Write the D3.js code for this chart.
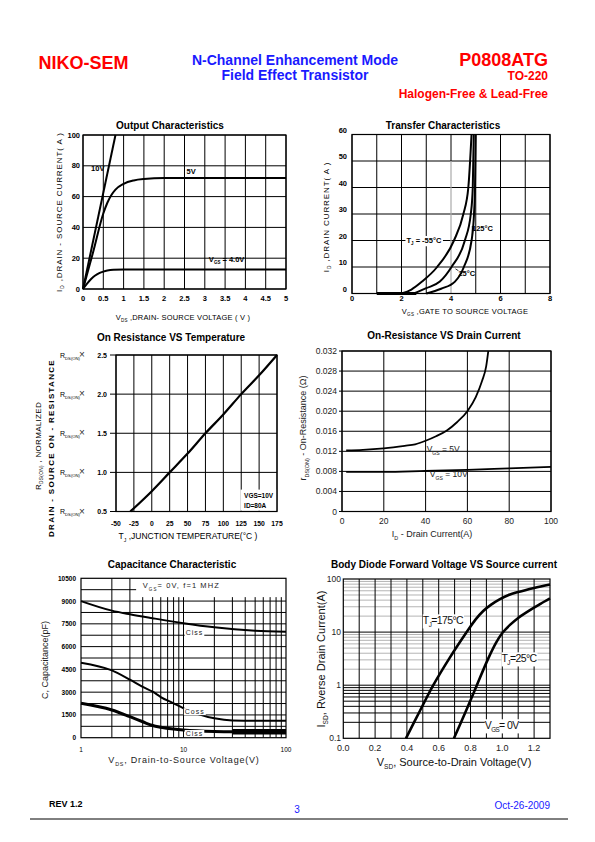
<!DOCTYPE html>
<html><head><meta charset="utf-8">
<script src="https://cdn.jsdelivr.net/npm/d3@7"></script>
<style>body{margin:0;background:#fff}svg{display:block}text{font-family:"Liberation Sans",Arial,Helvetica,sans-serif}</style>
</head><body><svg id="page" width="595" height="842"></svg>
<script>
// ================= DATA =================
// 1. Output characteristics (Vds [V], Id [A])
const outVdsTicks = [0,0.5,1,1.5,2,2.5,3,3.5,4,4.5,5];
const outIdTicks = [0,20,40,60,80,100];
const outVgs10 = [[0,0],[0.8,100]];
const outVgs5 = [[0,0],[0.25,24],[0.5,49],[0.6,56],[0.7,61],[0.8,64.5],[1.0,68.3],[1.25,70.5],[1.5,71.4],[2,72],[3,72],[5,72]];
const outVgs4 = [[0,0],[0.1,3.5],[0.2,6.5],[0.3,8.8],[0.4,10.3],[0.5,11.3],[0.6,12],[0.75,12.5],[1,12.7],[5,12.7]];

// 2. Transfer characteristics (Vgs [V], Id [A])
const trVgsTicks = [0,2,4,6,8];
const trVgsGrid = [0,1,2,3,4,5,6,7,8];
const trIdTicks = [0,10,20,30,40,50,60];
const trCurveA = [[2.0,0],[2.4,1.5],[2.83,4.5],[3.44,10],[4.12,20],[4.5,30],[4.7,40],[4.83,60]];
const trCurveB = [[2.5,0],[3.0,2],[3.55,4.5],[4.02,10],[4.56,20],[4.8,30],[4.88,40],[4.92,60]];
const trCurveC = [[3.0,0],[3.6,1.8],[4.16,4.5],[4.52,10],[4.83,20],[4.93,30],[4.97,40],[5.0,60]];
const trOffSegment = [[1,0],[2.6,0]];

// 3. On resistance vs temperature (Tj [°C], normalized Rds(on))
const tempTicks = [-50,-25,0,25,50,75,100,125,150,175];
const rnormTicks = [0.5,1.0,1.5,2.0,2.5];
const rnormCurve = [[-30,0.5],[0,0.76],[25,1.0],[50,1.24],[75,1.5],[100,1.74],[125,2.0],[150,2.24],[175,2.5]];

// 4. On resistance vs drain current (Id [A], Rds(on) [ohm])
const idTicks = [0,20,40,60,80,100];
const rdsTicks = [0,0.004,0.008,0.012,0.016,0.020,0.024,0.028,0.032];
const rdsTickLabels = ["0","0.004","0.008","0.012","0.016","0.020","0.024","0.028","0.032"];
const rdsVgs5 = [[2,0.0122],[10,0.0123],[20,0.0126],[30,0.0131],[35,0.0134],[40,0.0141],[45,0.015],[50,0.0161],[55,0.0178],[60,0.020],[64,0.0228],[67,0.026],[69,0.029],[70,0.032]];
const rdsVgs10 = [[2,0.0079],[20,0.0079],[40,0.0081],[60,0.0083],[80,0.0086],[100,0.0089]];

// 5. Capacitance (Vds [V], C [pF])
const capVdsTicks = [1,10,100];
const capVdsGrid = [2,3,4,5,6,7,8,9,10,20,30,40,50,60,70,80,90];
const capTicks = [0,1500,3000,4500,6000,7500,9000,10500];
const capGrid = [750,1500,2250,3000,3750,4500,5250,6000,6750,7500,8250,9000,9750];
const cissCurve = [[1,9000],[2,8370],[3,8130],[5,7870],[10,7540],[20,7270],[50,7050],[100,6980]];
const cossCurve = [[1,4940],[2,4430],[3,3820],[4,3350],[5,3030],[6,2680],[8,2266],[10,1937],[20,1278],[30,1130],[50,1110],[100,1120]];
const crssCurve = [[1,2266],[2,1825],[3,1383],[4,1050],[5,800],[6,690],[8,570],[10,507],[20,410],[30,392],[100,392]];
const crssThick = [[30,392],[100,392]];

// 6. Body diode (Vsd [V], Isd [A])
const vsdTicks = [0,0.2,0.4,0.6,0.8,1.0,1.2];
const vsdGrid = [0.1,0.2,0.3,0.4,0.5,0.6,0.7,0.8,0.9,1.0,1.1,1.2];
const isdTicks = [0.1,1,10,100];
const isdMinorLow = [0.2,0.3,0.4,0.5,0.6,0.7,0.8,0.9,1];
const isdMinorHigh = [2,3,4,5,6,7,8,9,20,30,40,50,60,70,80,90];
const diode175 = [[0.394,0.1],[0.48,0.32],[0.566,1],[0.67,3.3],[0.776,10],[0.83,17],[0.88,25],[0.93,33],[0.98,41],[1.04,50],[1.1,57],[1.2,68],[1.3,79]];
const diode25 = [[0.696,0.1],[0.77,0.32],[0.84,1],[0.912,3.2],[0.962,6.4],[1.0,9.6],[1.05,13.8],[1.1,18.5],[1.174,26],[1.24,34],[1.3,43]];

// ================= HELPERS =================
const svg = d3.select("#page");
const RED = "#ff0000", BLUE = "#1a1aff";

function rich(parent, x, y, parts, o) {
  const t = parent.append("text").attr("x", x).attr("y", y)
    .attr("font-size", o.size).attr("text-anchor", o.anchor || "start")
    .attr("font-weight", o.weight || "normal").attr("fill", o.fill || "#000");
  if (o.rotate) t.attr("transform", `rotate(-90,${x},${y})`);
  if (o.ls != null) t.attr("letter-spacing", o.ls);
  let shift = 0;
  parts.forEach(p => {
    const [s, kind] = Array.isArray(p) ? p : [p, null];
    const target = kind === "sub" ? o.size * 0.3 : 0;
    const ts = t.append("tspan").text(s);
    if (target - shift !== 0) ts.attr("dy", target - shift);
    if (kind === "sub") ts.attr("font-size", o.size * 0.6);
    shift = target;
  });
  return t;
}
function vgrid(g, x, y, vals, stroke, sw) {
  g.append("g").selectAll("line").data(vals).join("line")
    .attr("x1", d => x(d)).attr("x2", d => x(d))
    .attr("y1", y.range()[0]).attr("y2", y.range()[1])
    .attr("stroke", stroke || "#000").attr("stroke-width", sw || 1);
}
function hgrid(g, x, y, vals, stroke, sw) {
  g.append("g").selectAll("line").data(vals).join("line")
    .attr("y1", d => y(d)).attr("y2", d => y(d))
    .attr("x1", x.range()[0]).attr("x2", x.range()[1])
    .attr("stroke", stroke || "#000").attr("stroke-width", sw || 1);
}
function frame(g, x, y, sw) {
  const [xa, xb] = x.range(), [ya, yb] = y.range();
  g.append("rect").attr("x", xa).attr("y", yb).attr("width", xb - xa).attr("height", ya - yb)
    .attr("fill", "none").attr("stroke", "#000").attr("stroke-width", sw || 1.2);
}
function curve(g, x, y, data, sw, c) {
  g.append("path").datum(data)
    .attr("d", d3.line().x(d => x(d[0])).y(d => y(d[1])).curve(c || d3.curveMonotoneX))
    .attr("fill", "none").attr("stroke", "#000").attr("stroke-width", sw)
    .attr("stroke-linejoin", "round").attr("stroke-linecap", "butt");
}
function title(s, cx, by) {
  svg.append("text").attr("x", cx).attr("y", by).attr("text-anchor", "middle")
    .attr("font-size", 10).attr("font-weight", "bold").text(s);
}
function whiteBox(g, t, pad) {
  const b = t.node().getBBox();
  g.insert("rect", () => t.node()).attr("x", b.x - pad).attr("y", b.y).attr("width", b.width + 2 * pad)
    .attr("height", b.height).attr("fill", "#fff");
}

// ================= HEADER / FOOTER =================
svg.append("text").attr("x", 38.5).attr("y", 69).attr("font-size", 18).attr("font-weight", "bold").attr("fill", RED).text("NIKO-SEM");
svg.append("text").attr("x", 295).attr("y", 64.5).attr("text-anchor", "middle").attr("font-size", 14).attr("font-weight", "bold").attr("fill", BLUE).text("N-Channel Enhancement Mode");
svg.append("text").attr("x", 295).attr("y", 80).attr("text-anchor", "middle").attr("font-size", 14).attr("font-weight", "bold").attr("fill", BLUE).text("Field Effect Transistor");
svg.append("text").attr("x", 548).attr("y", 66).attr("text-anchor", "end").attr("font-size", 18).attr("font-weight", "bold").attr("fill", RED).text("P0808ATG");
svg.append("text").attr("x", 548).attr("y", 80).attr("text-anchor", "end").attr("font-size", 12).attr("font-weight", "bold").attr("fill", RED).text("TO-220");
svg.append("text").attr("x", 548).attr("y", 98).attr("text-anchor", "end").attr("font-size", 12).attr("font-weight", "bold").attr("fill", RED).text("Halogen-Free & Lead-Free");

svg.append("text").attr("x", 49).attr("y", 807).attr("font-size", 9).attr("font-weight", "bold").text("REV 1.2");
svg.append("text").attr("x", 297).attr("y", 813).attr("text-anchor", "middle").attr("font-size", 10).attr("fill", BLUE).text("3");
svg.append("text").attr("x", 550).attr("y", 809).attr("text-anchor", "end").attr("font-size", 10).attr("fill", BLUE).text("Oct-26-2009");
svg.append("line").attr("x1", 30).attr("x2", 568).attr("y1", 819).attr("y2", 819).attr("stroke", "#000").attr("stroke-width", 1);

// ================= CHART 1: Output Characteristics =================
{
  const g = svg.append("g");
  const x = d3.scaleLinear([0, 5], [83, 286]);
  const y = d3.scaleLinear([0, 100], [289, 135]);
  title("Output Characteristics", 170, 129);
  vgrid(g, x, y, outVdsTicks);
  hgrid(g, x, y, outIdTicks);
  frame(g, x, y, 1.2);
  curve(g, x, y, outVgs10, 2, d3.curveLinear);
  curve(g, x, y, outVgs5, 2);
  curve(g, x, y, outVgs4, 2);
  g.append("g").selectAll("text").data(outVdsTicks).join("text")
    .attr("x", d => x(d)).attr("y", 301).attr("text-anchor", "middle").attr("font-size", 7.5).attr("font-weight", "bold").text(d => d);
  g.append("g").selectAll("text").data(outIdTicks).join("text")
    .attr("x", 80).attr("y", d => y(d) + 2.5).attr("text-anchor", "end").attr("font-size", 7.5).attr("font-weight", "bold").text(d => d);
  rich(g, 62, 212, ["I", ["D", "sub"], " ,DRAIN - SOURCE CURRENT( A )"], {size: 8, anchor: "middle", rotate: true, ls: 0.9});
  rich(g, 183, 320, ["V", ["DS", "sub"], " ,DRAIN- SOURCE VOLTAGE ( V )"], {size: 7.5, anchor: "middle", ls: 0.2});
  g.append("text").attr("x", x(0.2)).attr("y", y(78) + 2).attr("font-size", 7.5).attr("font-weight", "bold").text("10V");
  g.append("text").attr("x", x(2.55)).attr("y", y(75)).attr("font-size", 7.5).attr("font-weight", "bold").text("5V");
  rich(g, x(3.1), y(17.5), ["V", ["GS", "sub"], " = 4.0V"], {size: 7.5, weight: "bold"});
}

// ================= CHART 2: Transfer Characteristics =================
{
  const g = svg.append("g");
  const x = d3.scaleLinear([0, 8], [352, 550]);
  const y = d3.scaleLinear([0, 60], [293.5, 134.5]);
  title("Transfer Characteristics", 443, 129);
  vgrid(g, x, y, trVgsGrid.filter(d => d !== 4));
  hgrid(g, x, y, trIdTicks);
  g.append("line").attr("x1", x(4)).attr("x2", x(4)).attr("y1", y(60)).attr("y2", y(50)).attr("stroke", "#000");
  g.append("line").attr("x1", x(4)).attr("x2", x(4)).attr("y1", y(50)).attr("y2", y(0)).attr("stroke", "#aaa").attr("stroke-width", 1.2);
  frame(g, x, y, 1.2);
  curve(g, x, y, trCurveA, 2);
  curve(g, x, y, trCurveB, 2);
  curve(g, x, y, trCurveC, 2);
  curve(g, x, y, trOffSegment, 3, d3.curveLinear);
  g.append("g").selectAll("text").data(trVgsTicks).join("text")
    .attr("x", d => x(d)).attr("y", 301).attr("text-anchor", "middle").attr("font-size", 7.5).attr("font-weight", "bold").text(d => d);
  g.append("g").selectAll("text").data(trIdTicks).join("text")
    .attr("x", 347).attr("y", d => y(d) - 2).attr("text-anchor", "end").attr("font-size", 7.5).attr("font-weight", "bold").text(d => d);
  rich(g, 329, 217, ["I", ["D", "sub"], " ,DRAIN CURRENT( A )"], {size: 8, anchor: "middle", rotate: true, ls: 0.9});
  rich(g, 465, 314, ["V", ["GS", "sub"], " ,GATE TO SOURCE VOLTAGE"], {size: 7.5, anchor: "middle", ls: 0.3});
  const t1 = rich(g, x(2.2), y(20) + 2.5, ["T", ["J", "sub"], " = -55°C"], {size: 7.5, weight: "bold"});
  whiteBox(g, t1, 1);
  g.append("text").attr("x", x(4.85)).attr("y", y(23.5)).attr("font-size", 7.5).attr("font-weight", "bold").text("125°C");
  g.append("line").attr("x1", x(4.86)).attr("x2", x(4.86)).attr("y1", y(25.5)).attr("y2", y(22)).attr("stroke", "#000").attr("stroke-width", 0.8);
  g.append("text").attr("x", x(4.3)).attr("y", y(6.5)).attr("font-size", 7.5).attr("font-weight", "bold").text("25°C");
  g.append("line").attr("x1", x(4.18)).attr("x2", x(4.3)).attr("y1", y(9.3)).attr("y2", y(8.6)).attr("stroke", "#000").attr("stroke-width", 0.8);
}

// ================= CHART 3: On Resistance vs Temperature =================
{
  const g = svg.append("g");
  const x = d3.scaleLinear([-50, 175], [116, 277]);
  const y = d3.scaleLinear([0.5, 2.5], [511.5, 355]);
  title("On Resistance VS Temperature", 171, 341);
  vgrid(g, x, y, tempTicks);
  hgrid(g, x, y, rnormTicks);
  const lg = g.append("g");
  lg.append("rect").attr("x", x(124)).attr("y", y(0.78)).attr("width", x(174) - x(124)).attr("height", y(0.51) - y(0.78)).attr("fill", "#fff");
  frame(g, x, y, 1.2);
  curve(g, x, y, rnormCurve, 2.2);
  g.append("g").selectAll("line").data(rnormTicks).join("line")
    .attr("x1", 110).attr("x2", 116).attr("y1", d => y(d)).attr("y2", d => y(d)).attr("stroke", "#000");
  lg.append("text").attr("x", x(129)).attr("y", y(0.67)).attr("font-size", 6.5).attr("font-weight", "bold").text("VGS=10V");
  lg.append("text").attr("x", x(129)).attr("y", y(0.55)).attr("font-size", 6.5).attr("font-weight", "bold").text("ID=80A");
  g.append("g").selectAll("text").data(tempTicks).join("text")
    .attr("x", d => x(d)).attr("y", 526).attr("text-anchor", "middle").attr("font-size", 6.8).attr("font-weight", "bold").text(d => d);
  g.append("g").selectAll("text").data(rnormTicks).join("text")
    .attr("x", 107).attr("y", d => y(d) + 2.5).attr("text-anchor", "end").attr("font-size", 7).attr("font-weight", "bold").text(d => d.toFixed(1));
  rnormTicks.forEach(v => {
    rich(g, 60, y(v) + 2.5, ["R", ["DS(ON)", "sub"]], {size: 7});
    g.append("text").attr("x", 79).attr("y", y(v) + 3).attr("font-size", 10).attr("fill", "#333").text("×");
  });
  rich(g, 41, 446, ["R", ["DS(ON)", "sub"], " , NORMALIZED"], {size: 8, anchor: "middle", rotate: true, ls: 0.3});
  g.append("text").attr("transform", "translate(54,448) rotate(-90)").attr("text-anchor", "middle")
    .attr("font-size", 8).attr("font-weight", "bold").attr("letter-spacing", 1.3).text("DRAIN - SOURCE ON - RESISTANCE");
  rich(g, 188, 539, ["T", ["J", "sub"], " ,JUNCTION TEMPERATURE(°C )"], {size: 8.5, anchor: "middle"});
}

// ================= CHART 4: On-Resistance vs Drain Current =================
{
  const g = svg.append("g");
  const x = d3.scaleLinear([0, 100], [342, 551]);
  const y = d3.scaleLinear([0, 0.032], [511.5, 351]);
  title("On-Resistance VS Drain Current", 444, 339);
  vgrid(g, x, y, idTicks);
  hgrid(g, x, y, rdsTicks);
  frame(g, x, y, 1.2);
  curve(g, x, y, rdsVgs5, 1.8);
  curve(g, x, y, rdsVgs10, 1.8);
  g.append("g").selectAll("line").data(rdsTicks).join("line")
    .attr("x1", 339).attr("x2", 342).attr("y1", d => y(d)).attr("y2", d => y(d)).attr("stroke", "#000");
  g.append("g").selectAll("text").data(idTicks).join("text")
    .attr("x", d => x(d)).attr("y", 524).attr("text-anchor", "middle").attr("font-size", 8.5).attr("fill", "#222").text(d => d);
  g.append("g").selectAll("text").data(rdsTicks).join("text")
    .attr("x", 337).attr("y", d => y(d) + 3).attr("text-anchor", "end").attr("font-size", 8.5).attr("fill", "#222").text((d, i) => rdsTickLabels[i]);
  rich(g, 306, 428, ["r", ["DS(ON)", "sub"], " - On-Resistance (Ω)"], {size: 9, anchor: "middle", rotate: true, fill: "#222"});
  rich(g, 432, 537, ["I", ["D", "sub"], " - Drain Current(A)"], {size: 9, anchor: "middle", fill: "#222"});
  rich(g, x(40.5), y(0.0118), ["V", ["GS", "sub"], " = 5V"], {size: 8.5, fill: "#222"});
  rich(g, x(42), y(0.0068), ["V", ["GS", "sub"], " = 10V"], {size: 8.5, fill: "#222"});
}

// ================= CHART 5: Capacitance =================
{
  const g = svg.append("g");
  const x = d3.scaleLog([1, 100], [81, 286]);
  const y = d3.scaleLinear([0, 10500], [737.7, 578.3]);
  title("Capacitance Characteristic", 172, 568);
  vgrid(g, x, y, capVdsGrid);
  hgrid(g, x, y, capGrid);
  g.append("rect").attr("x", x(3.45)).attr("y", y(10500)).attr("width", x(100) - x(3.45)).attr("height", y(9260) - y(10500)).attr("fill", "#fff");
  frame(g, x, y, 1.2);
  curve(g, x, y, cissCurve, 2);
  curve(g, x, y, cossCurve, 2);
  curve(g, x, y, crssCurve, 3);
  curve(g, x, y, crssThick, 5.5, d3.curveLinear);
  const lab = (s, v, c) => {
    const t = g.append("text").attr("x", x(v)).attr("y", y(c)).attr("font-size", 7).attr("letter-spacing", 1).attr("fill", "#222").text(s);
    whiteBox(g, t, 1);
  };
  lab("Ciss", 10.5, 6750);
  lab("Coss", 10.3, 1550);
  lab("Ciss", 10.5, 110);
  rich(g, x(4), y(9830), ["V", ["GS", "sub"], "= 0V, f=1 MHZ"], {size: 7.5, ls: 1.1, fill: "#222"});
  g.append("g").selectAll("text").data(capTicks).join("text")
    .attr("x", 76).attr("y", d => y(d) + 2.5).attr("text-anchor", "end").attr("font-size", 6.5).attr("font-weight", "bold").text(d => d);
  g.append("g").selectAll("text").data(capVdsTicks).join("text")
    .attr("x", d => x(d)).attr("y", 752).attr("text-anchor", "middle").attr("font-size", 6.5).text(d => d);
  g.append("text").attr("transform", "translate(48,660) rotate(-90)").attr("text-anchor", "middle")
    .attr("font-size", 9).attr("fill", "#222").text("C, Capacitance(pF)");
  rich(g, 184, 763, ["V", ["DS", "sub"], ", Drain-to-Source Voltage(V)"], {size: 9, anchor: "middle", ls: 0.8, fill: "#222"});
}

// ================= CHART 6: Body Diode =================
{
  const g = svg.append("g");
  const x = d3.scaleLinear([0, 1.3], [343.3, 550]);
  const y = d3.scaleLog([0.1, 100], [738.3, 579]);
  title("Body Diode Forward Voltage VS Source current", 444, 568);
  hgrid(g, x, y, isdMinorHigh, "#b4b4b4", 1);
  hgrid(g, x, y, isdMinorLow, "#000", 1);
  hgrid(g, x, y, [10], "#000", 1);
  vgrid(g, x, y, vsdGrid);
  frame(g, x, y, 1.2);
  const lab = (parts, vx, vy) => {
    const t = rich(g, x(vx), y(vy), parts, {size: 10.5, ls: -0.6, fill: "#111"});
    whiteBox(g, t, 0);
  };
  lab(["T", ["J", "sub"], "=175°C"], 0.5, 14);
  lab(["T", ["J", "sub"], "=25°C"], 0.995, 2.7);
  const vg = rich(g, x(0.89), y(0.148), ["V", ["GS", "sub"], "= 0V"], {size: 10.5, ls: -0.6, fill: "#111"});
  whiteBox(g, vg, 0);
  const cr = d3.curveCatmullRom.alpha(0.5);
  curve(g, x, y, diode175, 2.6, cr);
  curve(g, x, y, diode25, 2.6, cr);
  g.append("g").selectAll("text").data(vsdTicks).join("text")
    .attr("x", d => x(d)).attr("y", 751).attr("text-anchor", "middle").attr("font-size", 9).attr("fill", "#222").text(d => d.toFixed(1));
  g.append("g").selectAll("text").data(isdTicks).join("text")
    .attr("x", 341).attr("y", d => y(d) + 3).attr("text-anchor", "end").attr("font-size", 8.5).attr("fill", "#222").text(d => d);
  rich(g, 325, 659, ["I", ["SD", "sub"], ", Rverse Drain Current(A)"], {size: 11, anchor: "middle", rotate: true, fill: "#111"});
  rich(g, 454, 766, ["V", ["SD", "sub"], ", Source-to-Drain Voltage(V)"], {size: 11, anchor: "middle", fill: "#111"});
}
</script></body></html>
